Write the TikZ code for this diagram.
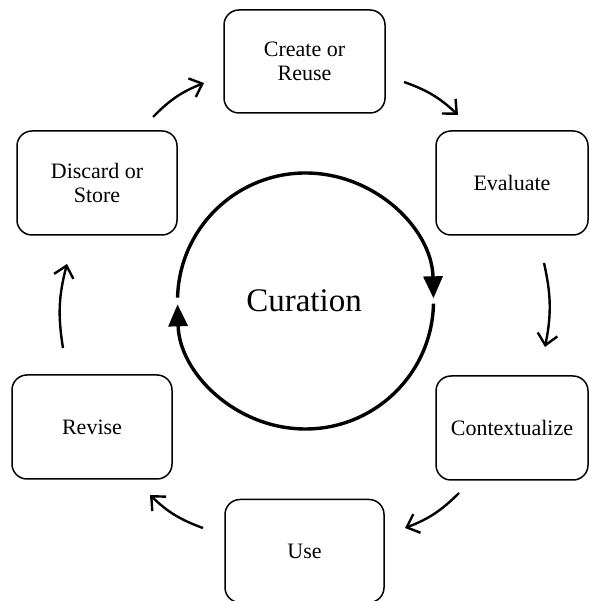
\documentclass[tikz,border=0pt]{standalone}
\usepackage{fontspec}
\setmainfont{Liberation Serif}
\usetikzlibrary{arrows.meta,calc}
\begin{document}
\begin{tikzpicture}[x=1pt,y=1pt,
  stagebox/.style={draw, line width=1.5pt, rounded corners=15pt, align=center,
    inner sep=0pt, minimum width=160pt, minimum height=104pt,
    font=\fontsize{22}{23.5}\selectfont},
  flow/.style={line width=2.4pt, -{Straight Barb[length=11pt,width=20pt,line width=2.4pt]}, bend left=12},
  ring/.style={line width=3.4pt, -{Triangle[length=22pt,width=19pt]}}
]
\useasboundingbox (0,0) rectangle (589,601);
% boxes
\node[stagebox, minimum width=161pt, minimum height=103pt] (create) at (304.5,539.5) {Create or\\Reuse};
\node[stagebox] (discard) at (97,418) {Discard or\\Store};
\node[stagebox, minimum width=152pt] (evaluate) at (512,418) {Evaluate};
\node[stagebox, minimum width=152pt] (context) at (512,173) {Contextualize};
\node[stagebox, minimum width=159pt, minimum height=103pt] (use) at (304.5,50) {Use};
\node[stagebox] (revise) at (92,174) {Revise};
% centre
\node[font=\fontsize{33}{36}\selectfont] (cur) at (304,300) {Curation};
\coordinate (c) at (305.5,300);
\draw[ring] ($(c)+(178.5:128)$) arc[start angle=178.5, end angle=1.2, radius=128];
\draw[ring] ($(c)+(-1.2:128)$) arc[start angle=-1.2, end angle=-178.5, radius=128];
% connector end points
\coordinate (a1s) at (153,484); \coordinate (a1e) at (204,518);
\coordinate (a2s) at (404,519); \coordinate (a2e) at (458,486);
\coordinate (a3s) at (544,338); \coordinate (a3e) at (545,254);
\coordinate (a4s) at (459,108); \coordinate (a4e) at (405,73);
\coordinate (a5s) at (203,73);  \coordinate (a5e) at (150,106);
\coordinate (a6s) at (63,253);  \coordinate (a6e) at (67,337);
\draw[flow] (a1s) to (a1e);
\draw[flow] (a2s) to (a2e);
\draw[flow] (a3s) to (a3e);
\draw[flow] (a4s) to (a4e);
\draw[flow] (a5s) to (a5e);
\draw[flow] (a6s) to (a6e);
\end{tikzpicture}
\end{document}
